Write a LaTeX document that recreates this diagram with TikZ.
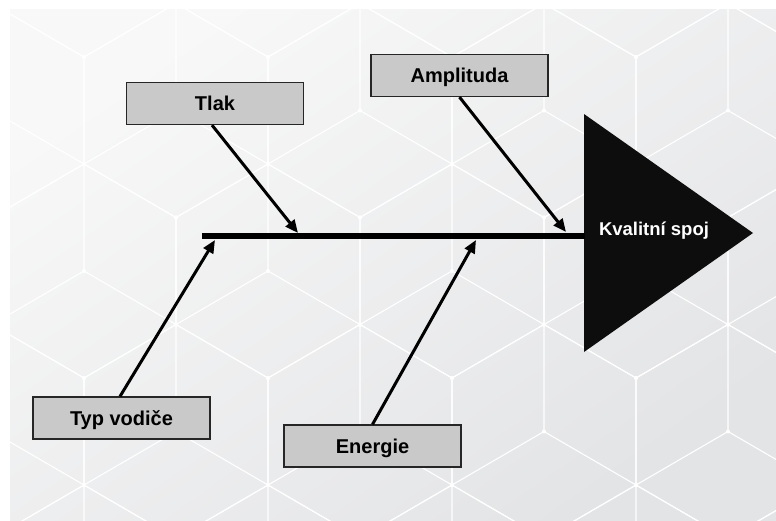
\documentclass[tikz,border=0pt]{standalone}
\usepackage{fontspec}
\setmainfont{Liberation Sans}
\usetikzlibrary{arrows.meta}
\definecolor{panelA}{HTML}{F8F8F8}
\definecolor{panelB}{HTML}{E3E4E6}
\definecolor{boxfill}{HTML}{C9C9C9}
\definecolor{headfill}{HTML}{0D0D0D}
\tikzset{
  causebox/.style={draw=black!85, line width=1.2pt, fill=boxfill,
    minimum width=177pt, minimum height=42pt, inner sep=0pt,
    text height=14.5pt, text depth=0pt,
    font=\bfseries\fontsize{20}{24}\selectfont},
  causearrow/.style={line width=3pt, -{Triangle[length=13pt,width=11pt]}},
  spineline/.style={line width=6pt},
  hexline/.style={white, line width=1.1pt},
}
\begin{document}
\begin{tikzpicture}[x=1pt,y=-1pt]
\useasboundingbox (0,0) rectangle (776,520);
\fill[white] (0,0) rectangle (776,520);
% background panel
\shade[top color=panelA, bottom color=panelB, shading angle=35] (10,9) rectangle (776,520);
\begin{scope}
\clip (10,9) rectangle (776,520);
\foreach \r in {-2,...,2}{
  \foreach \c in {-3,...,2}{
    \pgfmathsetmacro{\cx}{452+184*\c+92*abs(mod(\r,2))}
    \pgfmathsetmacro{\cy}{271+160.5*\r}
    \draw[hexline] (\cx,\cy-107) -- (\cx+92,\cy-53.5) -- (\cx+92,\cy+53.5) -- (\cx,\cy+107) -- (\cx-92,\cy+53.5) -- (\cx-92,\cy-53.5) -- cycle;
    \draw[hexline] (\cx,\cy-107) -- (\cx,\cy) -- (\cx-92,\cy+53.5);
    \draw[hexline] (\cx,\cy) -- (\cx+92,\cy+53.5);
    \foreach \dx/\dy in {0/0,0/-107,92/-53.5,92/53.5,0/107,-92/53.5,-92/-53.5}{
      \fill[white] (\cx+\dx,\cy+\dy) circle (2);
    }
  }
}
\end{scope}
% head
\fill[headfill] (584,114) -- (753,233) -- (584,352) -- cycle;
\node[text=white, font=\bfseries\fontsize{18.5}{22}\selectfont] (head) at (654,231) {Kvalitní spoj};
% spine
\coordinate (tail) at (202,236);
\coordinate (base) at (585,236);
\draw[spineline] (tail) -- (base);
% cause boxes
\node[causebox] (tlak) at (215,103.5) {Tlak};
\node[causebox] (ampl) at (459.5,75.5) {Amplituda};
\node[causebox] (typ) at (121.5,418) {Typ vodiče};
\node[causebox] (ener) at (372.5,446) {Energie};
% arrow targets on the spine
\coordinate (a1) at (298,233);
\coordinate (a2) at (566,232);
\coordinate (a3) at (215,240);
\coordinate (a4) at (476,240);
\draw[causearrow] ([xshift=-3pt]tlak.south) -- (a1);
\draw[causearrow] (ampl.south) -- (a2);
\draw[causearrow] ([xshift=-1.5pt]typ.north) -- (a3);
\draw[causearrow] (ener.north) -- (a4);
\end{tikzpicture}
\end{document}
